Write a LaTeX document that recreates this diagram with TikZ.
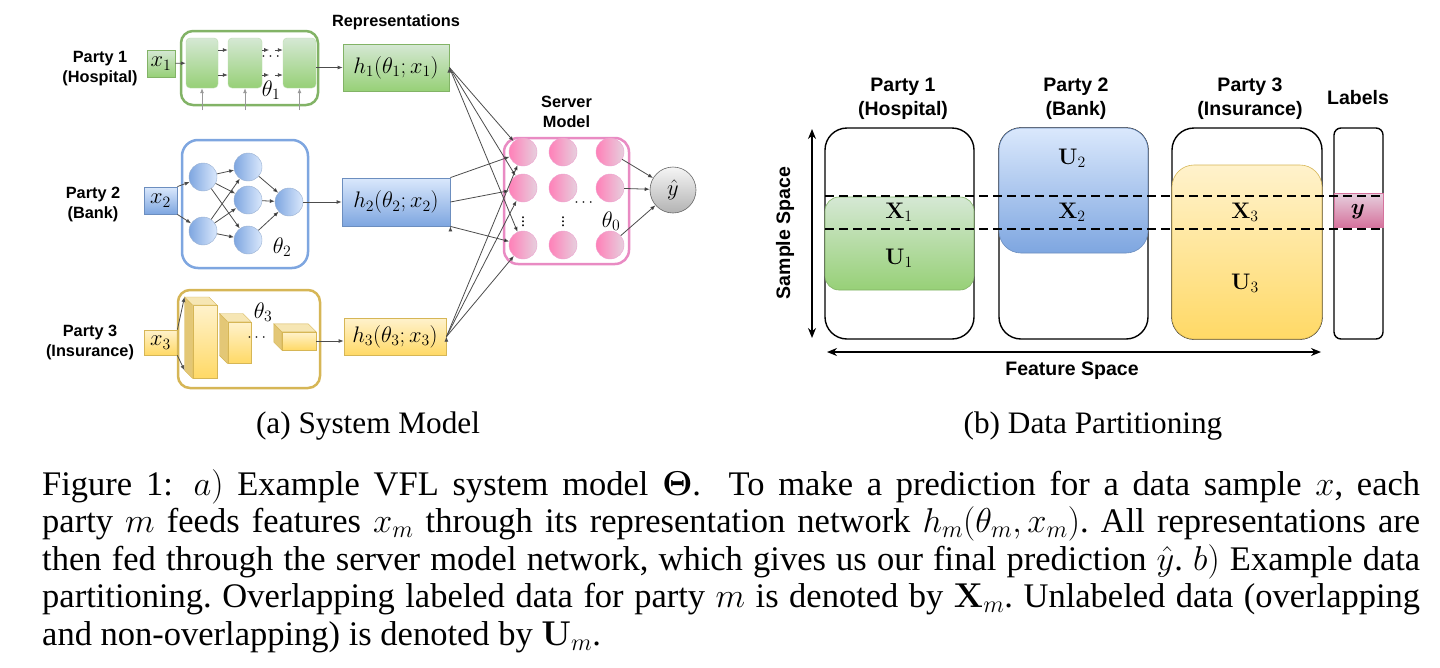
\RequirePackage{fix-cm}
\documentclass[tikz,border=0pt]{standalone}
\usepackage{amsmath,amssymb}
\usepackage[no-math]{fontspec}
\setmainfont{Liberation Serif}
\newfontfamily\arialfont{Liberation Sans}
\definecolor{myg}{HTML}{82B366}
\definecolor{mygl}{HTML}{D5E8D4}
\definecolor{mygd}{HTML}{97D077}
\definecolor{myb}{HTML}{6C8EBF}
\definecolor{mybl}{HTML}{DAE8FC}
\definecolor{mybd}{HTML}{7EA6E0}
\definecolor{myy}{HTML}{D6B656}
\definecolor{myyl}{HTML}{FFF2CC}
\definecolor{myyd}{HTML}{FFD966}
\definecolor{myys}{HTML}{E3C776}
\definecolor{myyt}{HTML}{F6E6B4}
\definecolor{myp}{HTML}{E98BC3}
\definecolor{mypk}{HTML}{FF80B8}
\definecolor{mypl}{HTML}{E6D0DE}
\definecolor{mypd}{HTML}{D5739D}
\definecolor{mygr}{HTML}{666666}
\definecolor{mygrl}{HTML}{F5F5F5}
\definecolor{mygrd}{HTML}{B3B3B3}
\usetikzlibrary{arrows.meta,positioning}
\tikzset{
	lbl/.style={font=\arialfont\bfseries\fontsize{16.3}{20}\selectfont, align=center, inner sep=0},
	rlbl/.style={font=\arialfont\bfseries\fontsize{19.5}{24}\selectfont, align=center, inner sep=0},
	mfont/.style={font=\fontsize{22.5}{26}\selectfont, inner sep=0},
	dfont/.style={font=\fontsize{16}{18}\selectfont, inner sep=0},
	capfont/.style={font=\fontsize{31.25}{37.5}\selectfont, inner sep=0},
	gbox/.style={draw=myg, line width=0.8pt, top color=mygl, bottom color=mygd, inner sep=0, mfont},
	bbox/.style={draw=myb, line width=0.8pt, top color=mybl, bottom color=mybd, inner sep=0, mfont},
	ybox/.style={draw=myy, line width=0.8pt, top color=myyl, bottom color=myyd, inner sep=0, mfont},
	pkbox/.style={draw=mypd, line width=0.8pt, top color=mypl, bottom color=mypd, inner sep=0},
	cont/.style={line width=2.5pt, rounded corners=12pt, fill=white, inner sep=0},
	gblk/.style={rounded corners=4pt, top color=mygl, bottom color=mygd, draw=mygl!60!mygd, line width=0.4pt, minimum height=50pt, inner sep=0},
	cub/.style={top color=myyl, bottom color=myyd, draw=myy, line width=0.4pt, inner sep=0},
	cubs/.style={fill=myys, draw=myy, line width=0.4pt},
	cubt/.style={fill=myyt, draw=myy, line width=0.4pt},
	bneu/.style={circle, minimum size=28pt, inner sep=0, left color=mybd, right color=mybl, draw=myb!70, line width=0.4pt},
	pneu/.style={circle, minimum size=28pt, inner sep=0, left color=mypk, right color=mypl, draw=myp!80, line width=0.4pt},
	conn/.style={draw=black!70, line width=0.8pt, -{Latex[length=5pt,width=4pt]}},
	pbox/.style={draw=black, line width=1.4pt, rounded corners=22pt, fill=white, minimum height=211pt, inner sep=0},
	dline/.style={black, line width=2.6pt, dash pattern=on 9pt off 5pt},
	dimarrow/.style={black, line width=1.4pt, {Stealth[length=10pt,width=8pt]}-{Stealth[length=10pt,width=8pt]}}
}

\begin{document}
\begin{tikzpicture}[x=1pt,y=-1pt]
	\useasboundingbox (0,0) rectangle (1440,667);
	% (a) system model
	\node[lbl] (p1) at (100,69) {Party 1\\(Hospital)};
	\node[lbl] (p2) at (93,204) {Party 2\\(Bank)};
	\node[lbl] (p3) at (90,342) {Party 3\\(Insurance)};
	\node[gbox, minimum width=28pt, minimum height=27pt] (x1) at (161,63.5) {$x_1$};
	\node[bbox, minimum width=33pt, minimum height=27pt] (x2) at (160.5,200.5) {$x_2$};
	\node[ybox, minimum width=33pt, minimum height=25pt] (x3) at (160.5,342.5) {$x_3$};

	% party 1
	\node[cont, draw=myg, minimum width=137pt, minimum height=74pt] (c1) at (249.5,68) {};
	\node[gblk, minimum width=32pt] (b1) at (202,63) {};
	\node[gblk, minimum width=34pt] (b2) at (245,63) {};
	\node[gblk, minimum width=33pt] (b3) at (299.5,63) {};
	\draw[conn] (x1) -- (b1);
	\draw[conn] ([yshift=13pt]b1.east) -- ([yshift=13pt]b2.west);
	\draw[conn] ([yshift=-12pt]b1.east) -- ([yshift=-12pt]b2.west);
	\draw[conn] ([yshift=13pt]b2.east) -- ++(7,0);
	\draw[conn] ([yshift=-12pt]b2.east) -- ++(7,0);
	\draw[conn] ([xshift=-8pt,yshift=13pt]b3.west) -- ([yshift=13pt]b3.west);
	\draw[conn] ([xshift=-8pt,yshift=-12pt]b3.west) -- ([yshift=-12pt]b3.west);
	\node[dfont] at (272,57) {$\cdots$};
	\draw[conn, black!40] ([yshift=-22pt]b1.south) -- (b1.south);
	\draw[conn, black!40] ([yshift=-22pt]b2.south) -- (b2.south);
	\draw[conn, black!40] ([yshift=-22pt]b3.south) -- (b3.south);
	\node[mfont] at (271,90) {$\theta_1$};
	\node[gbox, minimum width=106pt, minimum height=47pt] (h1) at (396,67.5) {$h_1(\theta_1;x_1)$};
	\draw[conn] (b3.east |- h1.west) -- (h1.west);
	\node[lbl, above=14pt of h1] (rep) {Representations};

	% party 2
	\node[cont, draw=mybd, rounded corners=16pt, minimum width=126pt, minimum height=128pt] (c2) at (245,204) {};
	\node[bneu] (n11) at (203,177) {};
	\node[bneu] (n12) at (203,231) {};
	\node[bneu] (n21) at (248,167) {};
	\node[bneu] (n22) at (248,200) {};
	\node[bneu] (n23) at (248,240) {};
	\node[bneu] (n31) at (289,202) {};
	\draw[conn] (x2.north east) -- (n11);
	\draw[conn] (x2.south east) -- (n12);
	\draw[conn] (n11) edge (n21) edge (n22) edge (n23)
		(n12) edge (n21) edge (n22) edge (n23);
	\draw[conn] (n21) edge (n31) (n22) edge (n31) (n23) edge (n31);
	\node[mfont] at (282,247) {$\theta_2$};
	\node[bbox, minimum width=108pt, minimum height=48pt] (h2) at (396,202) {$h_2(\theta_2;x_2)$};
	\draw[conn] (n31) -- (h2);

	% party 3
	\node[cont, draw=myy, minimum width=142pt, minimum height=98pt] (c3) at (249,339) {};
	\node[cub, minimum width=24pt, minimum height=73pt] (k1) at (204.7,341.7) {};
	\filldraw[cubs] (k1.north west) -- ++(-8,-8) -- ([shift={(-8,-8)}]k1.south west) -- (k1.south west) -- cycle;
	\filldraw[cubt] (k1.north west) -- ++(-8,-8) -- ([shift={(-8,-8)}]k1.north east) -- (k1.north east) -- cycle;
	\node[cub, minimum width=23pt, minimum height=41.6pt] (k2) at (239.2,342.5) {};
	\filldraw[cubs] (k2.north west) -- ++(-8,-8) -- ([shift={(-8,-8)}]k2.south west) -- (k2.south west) -- cycle;
	\filldraw[cubt] (k2.north west) -- ++(-8,-8) -- ([shift={(-8,-8)}]k2.north east) -- (k2.north east) -- cycle;
	\node[cub, minimum width=34pt, minimum height=18pt] (k3) at (299,341) {};
	\filldraw[cubs] (k3.north west) -- ++(-8,-8) -- ([shift={(-8,-8)}]k3.south west) -- (k3.south west) -- cycle;
	\filldraw[cubt] (k3.north west) -- ++(-8,-8) -- ([shift={(-8,-8)}]k3.north east) -- (k3.north east) -- cycle;
	\node[dfont] at (258,338) {$\cdots$};
	\node[mfont] at (263,312) {$\theta_3$};
	\draw[conn] (x3.north east) -- ([shift={(-8,-8)}]k1.north west);
	\draw[conn] (x3.south east) -- ([shift={(-8,-8)}]k1.south west);
	\node[ybox, minimum width=102pt, minimum height=37pt] (h3) at (395,336.7) {$h_3(\theta_3;x_3)$};
	\draw[conn] (k3.east) -- (k3.east -| h3.west);

	% server
	\node[cont, draw=myp, rounded corners=14pt, minimum width=125pt, minimum height=126pt] (cs) at (566.5,201) {};
	\node[lbl, above=9pt of cs] (sm) {Server\\Model};
	\node[pneu] (s11) at (523,152) {};
	\node[pneu] (s12) at (563,152) {};
	\node[pneu] (s13) at (610,152) {};
	\node[pneu] (s21) at (523,188) {};
	\node[pneu] (s22) at (563,188) {};
	\node[pneu] (s23) at (610,188) {};
	\node[pneu] (s31) at (523,245) {};
	\node[pneu] (s32) at (563,245) {};
	\node[pneu] (s33) at (610,245) {};
	\node[dfont] at (523,219) {$\vdots$};
	\node[dfont] at (563,219) {$\vdots$};
	\node[dfont] at (585,203) {$\cdots$};
	\node[mfont] at (611,221) {$\theta_0$};
	\node[circle, minimum size=46pt, inner sep=0, top color=mygrl, bottom color=mygrd, draw=mygr, line width=0.6pt, mfont] (yh) at (673,190) {$\hat{y}$};
	\draw[conn] (s13) edge (yh) (s23) edge (yh) (s33) edge (yh);
	\draw[conn] (h1.east) edge (s11) edge (s21) edge (s31);
	\draw[conn] (h2.north east) edge (s11) (h2.east) edge (s21) (h2.south east) edge (s31);
	\draw[conn] (h3.east) edge (s11) edge (s21) edge (s31);

	% (b) data partitioning
	\node[pbox, minimum width=149pt] (pb1) at (899.5,233.5) {};
	\node[pbox, minimum width=149pt] (pb2) at (1073.5,233.5) {};
	\node[pbox, minimum width=150pt] (pb3) at (1247,233.5) {};
	\node[pbox, minimum width=49pt, rounded corners=7pt] (lb) at (1358.5,233.5) {};
	\node[gbox, line width=0.6pt, rounded corners=14pt, minimum width=149pt, minimum height=93pt] (g1) at (899.5,243.5) {};
	\node[bbox, line width=0.6pt, rounded corners=22pt, minimum width=149pt, minimum height=125pt] (g2) at (1073.5,190.5) {};
	\node[ybox, line width=0.6pt, rounded corners=22pt, minimum width=150pt, minimum height=174pt] (g3) at (1247,252) {};
	\node[pkbox, minimum width=49pt, minimum height=34pt] (g4) at (1358.5,210) {};
	\node[mfont] at (899,212) {$\mathbf{X}_1$};
	\node[mfont] at (899,258) {$\mathbf{U}_1$};
	\node[mfont] at (1072,158) {$\mathbf{U}_2$};
	\node[mfont] at (1072,212) {$\mathbf{X}_2$};
	\node[mfont] at (1245,212) {$\mathbf{X}_3$};
	\node[mfont] at (1245,283) {$\mathbf{U}_3$};
	\node[mfont] at (1358,212) {$\boldsymbol{y}$};
	\coordinate (d1) at (825,196);
	\coordinate (d2) at (825,229);
	\draw[dline] (d1) -- (d1 -| lb.east);
	\draw[dline] (d2) -- (d2 -| lb.east);
	\node[rlbl] at (903,99) {Party 1\\(Hospital)};
	\node[rlbl] at (1076,99) {Party 2\\(Bank)};
	\node[rlbl] at (1250,99) {Party 3\\(Insurance)};
	\node[rlbl] at (1358,98) {Labels};
	\coordinate (sa) at (812,129);
	\coordinate (sb) at (812,338);
	\draw[dimarrow] (sa) -- (sb);
	\node[rlbl, rotate=90] at (785,233) {Sample Space};
	\coordinate (fa) at (827,352);
	\coordinate (fb) at (1321,352);
	\draw[dimarrow] (fa) -- (fb);
	\node[rlbl] at (1072,371) {Feature Space};

	% captions
	\node[capfont, anchor=base] at (368,433) {(a) System Model};
	\node[capfont, anchor=base] at (1093,433) {(b) Data Partitioning};
	\node[capfont, font=\fontsize{34.5}{37.5}\selectfont\frenchspacing, anchor=north west, text width=1378pt, align=justify] (cap) at (42,469) {Figure 1:\hspace{0.6em}$a)$ Example VFL system model $\boldsymbol{\Theta}$.\ \ To make a prediction for a data sample $x$, each\linebreak
		party $m$ feeds features $x_m$ through its representation network $h_m(\theta_m, x_m)$. All representations are\linebreak
		then fed through the server model network, which gives us our final prediction $\hat{y}$. $b)$ Example data\linebreak
		partitioning. Overlapping labeled data for party $m$ is denoted by $\mathbf{X}_m$. Unlabeled data (overlapping\linebreak
		and non-overlapping) is denoted by $\mathbf{U}_m$.};
\end{tikzpicture}
\end{document}
